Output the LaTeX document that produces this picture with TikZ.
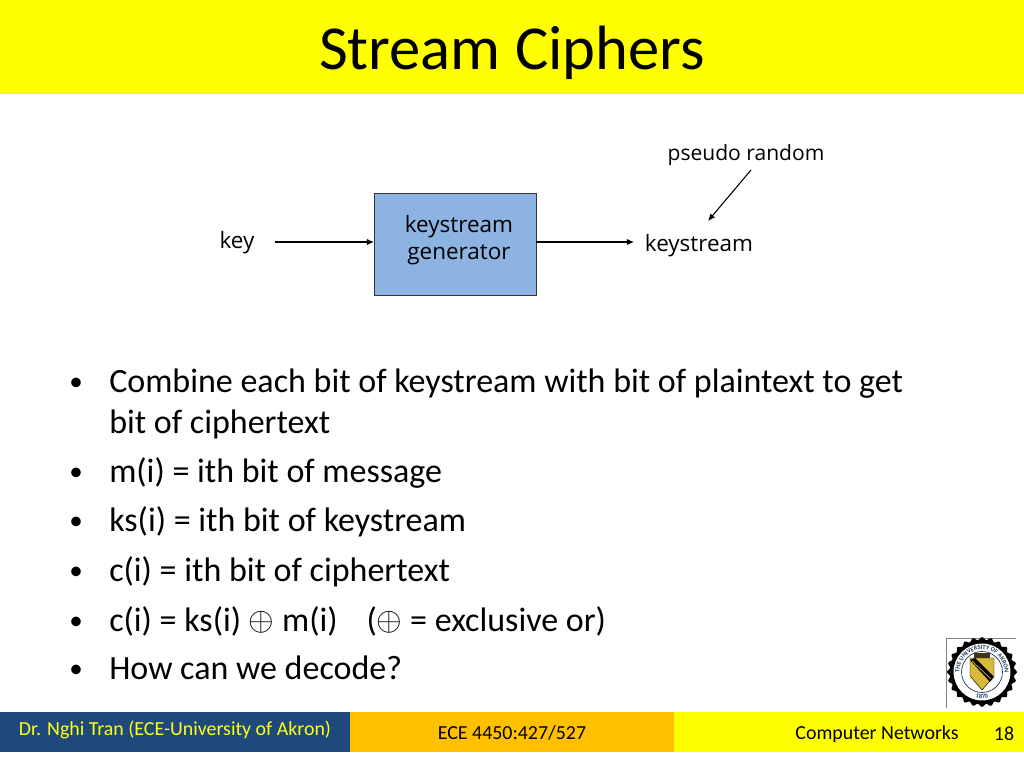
\documentclass[tikz,border=0pt]{standalone}
\usepackage{fontspec}
\usepackage{graphicx}
\setmainfont{Carlito}
\newfontfamily\handfont{Open Sans}
\usetikzlibrary{decorations.text,arrows.meta}
\definecolor{bandyellow}{HTML}{FFFF00}
\definecolor{footblue}{HTML}{1F497D}
\definecolor{footorange}{HTML}{FFC000}
\definecolor{boxblue}{HTML}{8DB3E2}
\definecolor{sealnavy}{HTML}{1F3A5F}
\definecolor{sealgold}{HTML}{D9B93A}
\newcommand{\xorsign}{\raisebox{0.2pt}{\scalebox{0.93}{$\oplus$}}}
\tikzset{
  band/.style={inner sep=0pt,outer sep=0pt,anchor=north west},
  hand/.style={font=\handfont\fontsize{15.8}{18.6}\selectfont,align=center,inner sep=0pt},
  bullettext/.style={anchor=base west,inner sep=0pt,font=\fontsize{23.9}{28}\selectfont},
  bulletdot/.style={anchor=base,inner sep=0pt,font=\fontsize{19}{22}\selectfont},
  foottext/.style={inner sep=0pt,font=\fontsize{14}{16}\selectfont},
  flow/.style={-{Latex[length=5pt,width=4.4pt]},line width=0.75pt}
}
\begin{document}
\begin{tikzpicture}[x=0.703125pt,y=-0.703125pt]
  \useasboundingbox (0,0) rectangle (1024,768);
  \fill[white] (0,0) rectangle (1024,768);
  % bands
  \node[band,fill=bandyellow,minimum width=720pt,minimum height=66.1pt] (titleband) at (0,0) {};
  \node[band,fill=footblue,minimum width=246.1pt,minimum height=28.1pt] (footleft) at (0,712) {};
  \node[band,fill=footorange,minimum width=227.8pt,minimum height=28.1pt] (footmid) at (350,712) {};
  \node[band,fill=bandyellow,minimum width=246.1pt,minimum height=28.1pt] (footright) at (674,712) {};
  \node[inner sep=0pt,font=\fontsize{44}{50}\selectfont] (title) at (512,53) {Stream Ciphers};
  % diagram
  \node[draw=black!80,fill=boxblue,line width=0.7pt,band,minimum width=113.9pt,minimum height=72.2pt] (gen) at (374,193) {};
  \node[hand] (genlabel) at (459,240) {keystream\\generator};
  \node[hand] (key) at (237,243) {key};
  \node[hand] (out) at (699,246) {keystream};
  \node[hand,font=\handfont\fontsize{14.8}{18}\selectfont] (pseudo) at (746,155) {pseudo random};
  \coordinate (keyin) at (275,242);
  \coordinate (keyout) at (634,242);
  \coordinate (pseudofrom) at (751,170);
  \coordinate (pseudoto) at (708,221);
  \draw[flow] (keyin) -- (keyin -| gen.west);
  \draw[flow] (keyin -| gen.east) -- (keyout);
  \draw[flow] (pseudofrom) -- (pseudoto);
  % bullets
  \foreach \name/\ypos in {a/390,c/480,d/529,e/579,f/629,g/677}
    \node[bulletdot] (dot\name) at (76,\ypos) {•};
  \node[bullettext] (ba) at (109,392) {Combine each bit of keystream with bit of plaintext to get};
  \node[bullettext] (bb) at (109,433) {bit of ciphertext};
  \node[bullettext] (bc) at (109,482) {m(i) = ith bit of message};
  \node[bullettext] (bd) at (109,531) {ks(i) = ith bit of keystream};
  \node[bullettext] (be) at (109,581) {c(i) = ith bit of ciphertext};
  \node[bullettext] (bf) at (109,631) {c(i) = ks(i) \xorsign{} m(i)\hspace{0.85em}(\xorsign{} = exclusive or)};
  \node[bullettext] (bg) at (109,679) {How can we decode?};
  % footer
  \node[foottext,text=bandyellow!90!white] (author) at (175,730) {Dr. Nghi Tran (ECE-University of Akron)};
  \node[foottext] (course) at (512,733) {ECE 4450:427/527};
  \node[foottext] (topic) at (877,734) {Computer Networks};
  \node[foottext] (page) at (1004,734) {18};
  % seal
  \coordinate (seal) at (982,672);
  \draw[gray,line width=0.4pt] (946,708) -- (946,638) -- (1016,638);
  \fill[black,domain=0:360,samples=145,smooth] plot ({982+(33.5+1.5*cos(24*\x))*cos(\x)},{672+(33.5+1.5*cos(24*\x))*sin(\x)}) -- cycle;
  \fill[white] (seal) circle (20pt);
  \draw[sealnavy,line width=0.5pt] (seal) circle (14.4pt);
  \path[decorate,decoration={text along path,text align=center,text color=sealnavy,
    text={|\fontsize{4.4}{5}\selectfont\bfseries|THE UNIVERSITY OF AKRON}}]
    ([shift={(212:15.8pt)}]seal) arc[start angle=212,end angle=-32,radius=15.8pt];
  \path[decorate,decoration={text along path,text align=center,text color=sealnavy,
    text={|\fontsize{4.4}{5}\selectfont\bfseries|1870}}]
    ([shift={(245:18.6pt)}]seal) arc[start angle=245,end angle=295,radius=18.6pt];
  \fill[sealgold,draw=black,line width=0.3pt] (970,658) -- (994,658) -- (994,676) -- (982,690) -- (970,676) -- cycle;
  \fill[black] (970,660) -- (975,658) -- (994,677) -- (990,682) -- cycle;
  \draw[sealgold,line width=0.5pt] (972,661) -- (991,679);
  \fill[black!70!sealgold] (974,653) rectangle (990,658);
\end{tikzpicture}
\end{document}
